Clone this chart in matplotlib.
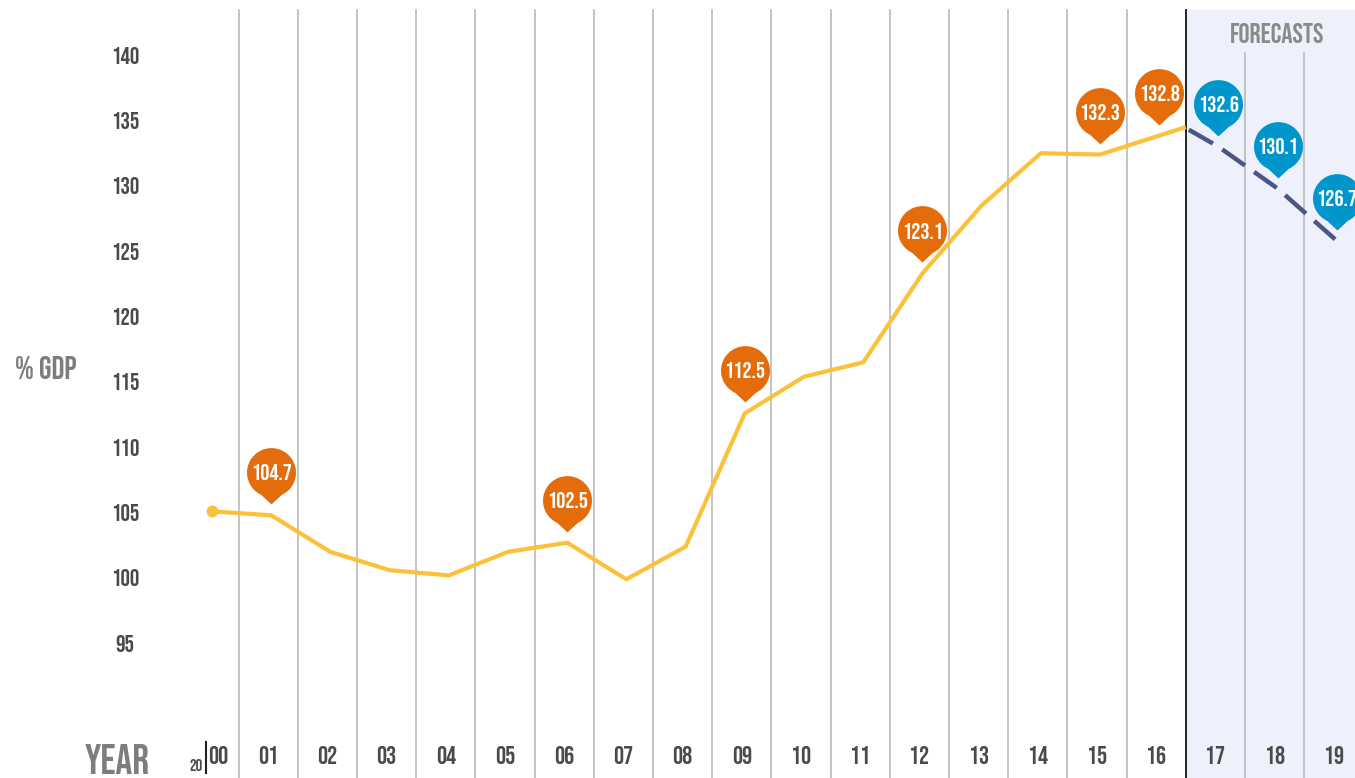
import numpy as np
import matplotlib
matplotlib.use("Agg")
import matplotlib.pyplot as plt
from matplotlib.path import Path
from matplotlib import font_manager as fm
from matplotlib.textpath import TextPath
from matplotlib.font_manager import FontProperties
from matplotlib.transforms import blended_transform_factory

# ---------------- data ----------------
year_labels = ["00", "01", "02", "03", "04", "05", "06", "07", "08", "09",
               "10", "11", "12", "13", "14", "15", "16", "17", "18", "19"]
# historical series (position = year index; last point ends at forecast boundary)
hist_pos = [0, 1, 2, 3, 4, 5, 6, 7, 8, 9, 10, 11, 12, 13, 14, 15, 16.45]
hist_val = [105.1, 104.8, 102.0, 100.6, 100.2, 102.0, 102.7, 99.9, 102.4,
            112.6, 115.4, 116.5, 123.3, 128.5, 132.5, 132.4, 134.5]
# forecast series
fc_pos = [16.5, 17, 18, 19]
fc_val = [134.3, 133.0, 129.8, 125.8]
# callout labels
hist_pin_pos = [1, 6, 9, 12, 15, 16]
hist_pin_lab = ["104.7", "102.5", "112.5", "123.1", "132.3", "132.8"]
fc_pin_pos = [17, 18, 19]
fc_pin_lab = ["132.6", "130.1", "126.7"]
y_ticks = [95, 100, 105, 110, 115, 120, 125, 130, 135, 140]
forecast_start = 16.45

# ---------------- fonts ----------------
avail = {f.name for f in fm.fontManager.ttflist}
candidates = ["Bebas Neue", "Oswald", "Pathway Gothic One", "Fjalla One",
              "Roboto Condensed", "Open Sans Condensed", "IBM Plex Sans Condensed",
              "Liberation Sans Narrow", "DejaVu Sans"]
FONT = next(c for c in candidates if c in avail)
plt.rcParams["font.family"] = [FONT, "DejaVu Sans"]
plt.rcParams["lines.scale_dashes"] = False

_digit_h = TextPath((0, 0), "0", size=100,
                    prop=FontProperties(family=FONT)).get_extents().height / 100.0


def fs(cap_px):
    """font size in points that gives digits/caps of cap_px pixels height"""
    return cap_px / _digit_h * 72.0 / 100.0


ORANGE = "#E46C0A"
BLUE = "#0096CC"
YELLOW = "#FBC13B"
NAVY = "#4B5783"
SHADE = "#EEF0FB"
GRID = "#B4B4B4"
DARK = "#4a4a4a"
LIGHT = "#7d7d7d"

W, H = 1355, 778
fig = plt.figure(figsize=(W / 100, H / 100), dpi=100)
ax = fig.add_axes([0, 0, 1, 1])
ax.axis("off")

x0_px, dx_px = 212.0, 59.2
y100_px, dy_px = 578.0, 13.07
ax.set_xlim(-x0_px / dx_px, (W - x0_px) / dx_px)
ax.set_ylim(100 - (H - y100_px) / dy_px, 100 + y100_px / dy_px)

top_main = 1 - 10 / H
top_fc = 1 - 53 / H
xa = blended_transform_factory(ax.transData, ax.transAxes)
ya = blended_transform_factory(ax.transAxes, ax.transData)

# forecast shading
ax.axvspan(forecast_start, ax.get_xlim()[1], ymin=0, ymax=top_main,
           color=SHADE, lw=0, zorder=0)

# vertical separators
n = len(year_labels)
for k in range(n - 1):
    xb = k + 0.45
    if abs(xb - forecast_start) < 1e-6:
        ax.axvline(xb, 0, top_main, color="#222222", lw=1.4, zorder=1)
    elif xb > forecast_start:
        ax.axvline(xb, 0, top_fc, color=GRID, lw=1.1, zorder=1)
    else:
        ax.axvline(xb, 0, top_main, color=GRID, lw=1.1, zorder=1)

# lines
ax.plot(hist_pos, hist_val, color=YELLOW, lw=3.0, solid_capstyle="butt",
        solid_joinstyle="miter", zorder=3)
ax.plot(hist_pos[:1], hist_val[:1], "o", color=YELLOW, ms=8.5, mew=0, zorder=4)
ax.plot(fc_pos, fc_val, color=NAVY, lw=3.2, dashes=(20, 8),
        dash_capstyle="butt", zorder=3)

# pin marker (tip slightly above anchor point)
lift = 0.45
cy = lift + 1.3
arc = Path.arc(-65, 245)
verts = arc.vertices + np.array([0, cy])
codes = list(arc.codes)
verts = np.vstack([verts, [[0, lift]], [[0, lift]]])
codes += [Path.LINETO, Path.CLOSEPOLY]
pin = Path(verts, codes)
rad_pt = 24.5 * 72 / 100
ms_pin = rad_pt * np.max(np.abs(verts)) / 0.5
text_off = cy * rad_pt


def draw_pins(pos, labs, series_x, series_y, color):
    ys = np.interp(pos, series_x, series_y)
    ax.plot(pos, ys, linestyle="none", marker=pin, ms=ms_pin, color=color,
            mew=0, zorder=5)
    for p, yv, lab in zip(pos, ys, labs):
        ax.annotate(lab, (p, yv), xytext=(0, text_off), textcoords="offset points",
                    ha="center", va="center_baseline", color="white",
                    fontsize=fs(16.5), fontweight="light", zorder=6,
                    annotation_clip=False)


draw_pins(hist_pin_pos, hist_pin_lab, hist_pos, hist_val, ORANGE)
draw_pins(fc_pin_pos, fc_pin_lab, fc_pos, fc_val, BLUE)

# y tick labels
for t in y_ticks:
    ax.text(125 / W, t, str(t), transform=ya, ha="center", va="center_baseline",
            fontsize=fs(17), color=DARK)

# x tick labels
ylab = 1 - 755 / H
for k, lab in enumerate(year_labels):
    if k == 0:
        ax.text(k - 0.06, ylab, lab, transform=xa, ha="left",
                va="center_baseline", fontsize=fs(18), color=DARK)
    else:
        ax.text(k - 0.05, ylab, lab, transform=xa, ha="center",
                va="center_baseline", fontsize=fs(18), color=DARK)

# axis titles and decorations
fig.text(117 / W, 1 - 759 / H, "YEAR", ha="center", va="center_baseline",
         fontsize=fs(30), fontweight="light", color=LIGHT)
fig.text(196 / W, 1 - 765 / H, "20", ha="center", va="center_baseline",
         fontsize=fs(12), color=DARK)
fig.add_artist(plt.Line2D([206 / W, 206 / W], [1 - 742 / H, 1 - 773 / H],
                          color="#222222", lw=1.5, transform=fig.transFigure))
fig.text(46 / W, 1 - 367 / H, "% GDP", ha="center", va="center_baseline",
         fontsize=fs(23), color=LIGHT)
fig.text(1277 / W, 1 - 33 / H, "FORECASTS", ha="center", va="center_baseline",
         fontsize=fs(20), fontweight="light", color="#8a8a8a")

fig.savefig("out.png", dpi=100)
